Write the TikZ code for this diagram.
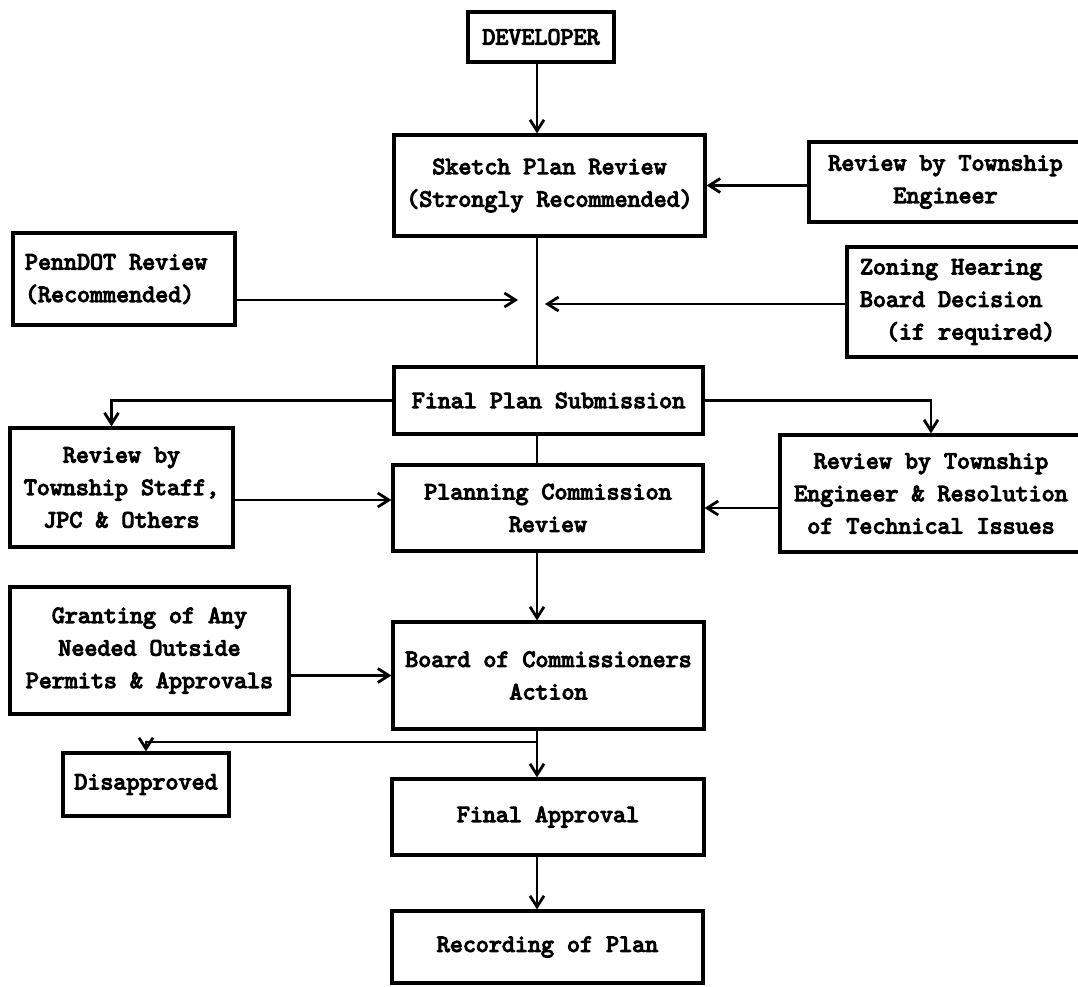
\documentclass[tikz,border=0pt]{standalone}
\usepackage{fontspec}
\newfontfamily\chartfont{lmmono10-regular.otf}[FakeBold=4.5]
\usetikzlibrary{arrows.meta, positioning}

\tikzset{
  box/.style={draw, line width=3.2pt, align=center, inner sep=0pt,
    font=\chartfont\fontsize{24.8}{32.5}\selectfont},
  flow/.style={line width=2.8pt, -{Straight Barb[length=11pt,width=14pt,line width=2.8pt]}},
  link/.style={line width=2.8pt}
}

\begin{document}
\begin{tikzpicture}[x=1pt, y=-1pt]
  \clip (0,0) rectangle (1078,987);
  \node[box, minimum width=146pt, minimum height=50pt] (dev) at (541,37) {DEVELOPER};
  \node[box, minimum width=311pt, minimum height=101pt] (sketch) at (549.5,185.5) {Sketch Plan Review\\(Strongly Recommended)};
  \node[box, minimum width=273pt, minimum height=80pt] (engtop) at (945.5,182) {Review by Township\\Engineer};
  \node[box, align=left, text width=198pt, inner xsep=12pt, minimum height=92pt] (penndot) at (124,279) {\spaceskip=0pt PennDOT Review\\(Recommended)};
  \node[box, align=left, text width=209pt, inner xsep=13pt, minimum height=110pt] (zoning) at (964.5,302) {\spaceskip=0pt Zoning Hearing\\Board Decision\\\phantom{xx}(if required)};
  \node[box, minimum width=309pt, minimum height=67pt] (fps) at (548.5,400.5) {Final Plan Submission};
  \node[box, minimum width=223pt, minimum height=119pt] (staff) at (121.5,487.5) {Review by\\Township Staff,\\JPC \& Others};
  \node[box, minimum width=310pt, minimum height=86pt] (pcr) at (548,508) {Planning Commission\\Review};
  \node[box, minimum width=302pt, minimum height=117pt] (engres) at (931,493.5) {Review by Township\\Engineer \& Resolution\\of Technical Issues};
  \node[box, minimum width=279pt, minimum height=127pt] (granting) at (149.5,650.5) {Granting of Any\\Needed Outside\\Permits \& Approvals};
  \node[box, minimum width=311pt, minimum height=107pt] (board) at (548.5,675.5) {Board of Commissioners\\Action};
  \node[box, minimum width=166pt, minimum height=63pt] (disapp) at (146,784.5) {Disapproved};
  \node[box, minimum width=312pt, minimum height=76pt] (finalapp) at (548,817) {Final Approval};
  \node[box, minimum width=311pt, minimum height=72pt] (recording) at (547.5,947) {Recording of Plan};

  \coordinate (spine) at (537,0);
  \coordinate (pdtip) at (518,300);
  \coordinate (zntip) at (545,304);
  \coordinate (sttip) at ([yshift=8pt]pcr.west);
  \coordinate (split) at (537,742);

  \draw[flow] (dev.south -| spine) -- (sketch.north -| spine);
  \draw[flow] (engtop.west |- sketch.east) -- (sketch.east);
  \draw[link] (sketch.south -| spine) -- (fps.north -| spine);
  \draw[flow] (penndot.east |- pdtip) -- (pdtip);
  \draw[flow] (zoning.west |- zntip) -- (zntip);
  \draw[flow] (fps.west) -| ([xshift=-10pt]staff.north);
  \draw[flow] (fps.east) -| (engres.north);
  \draw[link] (fps.south -| spine) -- (pcr.north -| spine);
  \draw[flow] (staff.east |- sttip) -- (sttip);
  \draw[flow] (engres.west |- pcr.east) -- (pcr.east);
  \draw[flow] (pcr.south -| spine) -- (board.north -| spine);
  \draw[flow] (granting.east |- board.west) -- (board.west);
  \draw[flow] (board.south -| spine) -- (finalapp.north -| spine);
  \draw[flow] (split) -| (disapp.north);
  \draw[flow] (finalapp.south -| spine) -- (recording.north -| spine);
\end{tikzpicture}
\end{document}
